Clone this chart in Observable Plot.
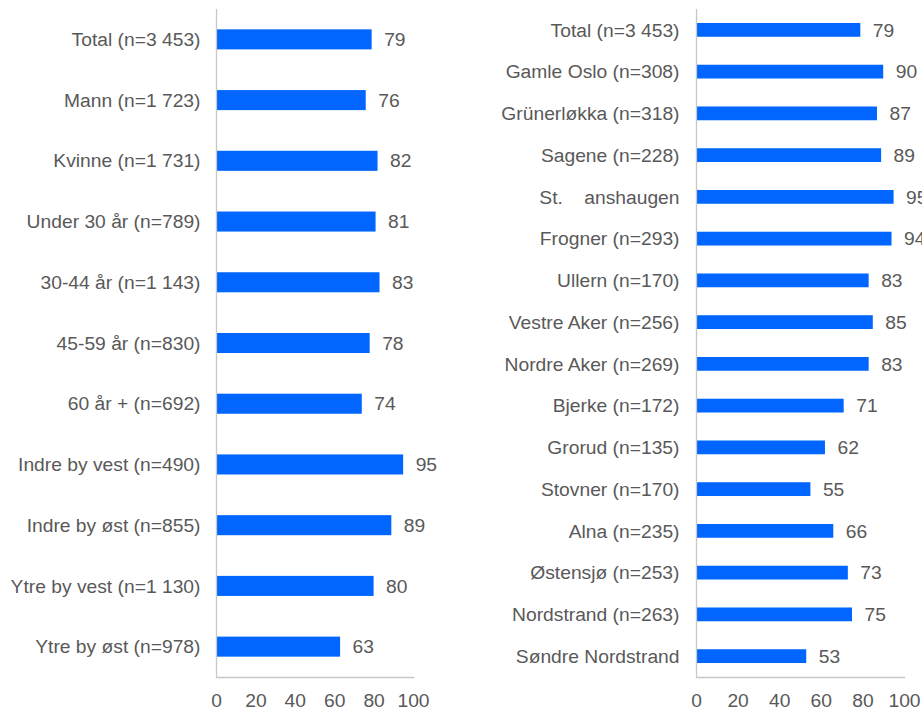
<!DOCTYPE html>
<html>
<head>
<meta charset="utf-8">
<script src="https://cdn.jsdelivr.net/npm/d3@7"></script>
<script src="https://cdn.jsdelivr.net/npm/@observablehq/plot@0.6"></script>
<style>
  html, body { margin: 0; padding: 0; background: #fff; overflow: hidden; }
  #wrap { position: relative; width: 922px; height: 710px; }
  #left { position: absolute; left: 0; top: 0; }
  #right { position: absolute; left: 461px; top: 0; }
</style>
</head>
<body>
<div id="wrap"><div id="left"></div><div id="right"></div></div>
<script>
const leftLabels = ["Total (n=3 453)", "Mann (n=1 723)", "Kvinne (n=1 731)", "Under 30 år (n=789)", "30-44 år (n=1 143)", "45-59 år (n=830)", "60 år + (n=692)", "Indre by vest (n=490)", "Indre by øst (n=855)", "Ytre by vest (n=1 130)", "Ytre by øst (n=978)"];
const leftValues = [79, 76, 82, 81, 83, 78, 74, 95, 89, 80, 63];

const rightLabels = ["Total (n=3 453)", "Gamle Oslo (n=308)", "Grünerløkka (n=318)", "Sagene (n=228)", "St.\u00a0\u00a0\u00a0\u00a0anshaugen", "Frogner (n=293)", "Ullern (n=170)", "Vestre Aker (n=256)", "Nordre Aker (n=269)", "Bjerke (n=172)", "Grorud (n=135)", "Stovner (n=170)", "Alna (n=235)", "Østensjø (n=253)", "Nordstrand (n=263)", "Søndre Nordstrand"];
const rightValues = [79, 90, 87, 89, 95, 94, 83, 85, 83, 71, 62, 55, 66, 73, 75, 53];

const xTicks = [0, 20, 40, 60, 80, 100];

const BAR = "#0066ff";
const TEXT = "#595959";
const LINE = "#c8c8c8";
const FONT = "'Liberation Sans', Arial, sans-serif";
const FS = 19.25;

function panel(labels, values, marginLeft, marginRight, pad) {
  const data = labels.map((label, i) => ({label, value: values[i]}));
  return Plot.plot({
    width: 461,
    height: 710,
    marginTop: 9,
    marginBottom: 33,
    marginLeft,
    marginRight,
    style: {fontFamily: FONT, fontSize: FS + "px", background: "transparent", overflow: "visible"},
    x: {domain: [0, 100], ticks: xTicks},
    y: {domain: labels, paddingInner: 0.67, paddingOuter: 0.335, round: false},
    marks: [
      Plot.barX(data, {x: "value", y: "label", fill: BAR}),
      Plot.ruleX([0], {stroke: LINE, strokeWidth: 1.3}),
      Plot.frame({anchor: "bottom", stroke: LINE, strokeWidth: 1.3}),
      Plot.text(data, {x: "value", y: "label", text: d => String(d.value), dx: 12, textAnchor: "start", fill: TEXT, fontSize: FS}),
      Plot.axisY({tickSize: 0, tickPadding: pad, fill: TEXT, fontSize: FS, label: null}),
      Plot.axisX({ticks: xTicks, tickSize: 0, tickPadding: 16, fill: TEXT, fontSize: FS, label: null})
    ]
  });
}

document.getElementById("left").append(panel(leftLabels, leftValues, 216, 48, 16));
document.getElementById("right").append(panel(rightLabels, rightValues, 235, 18, 17));
</script>
</body>
</html>
